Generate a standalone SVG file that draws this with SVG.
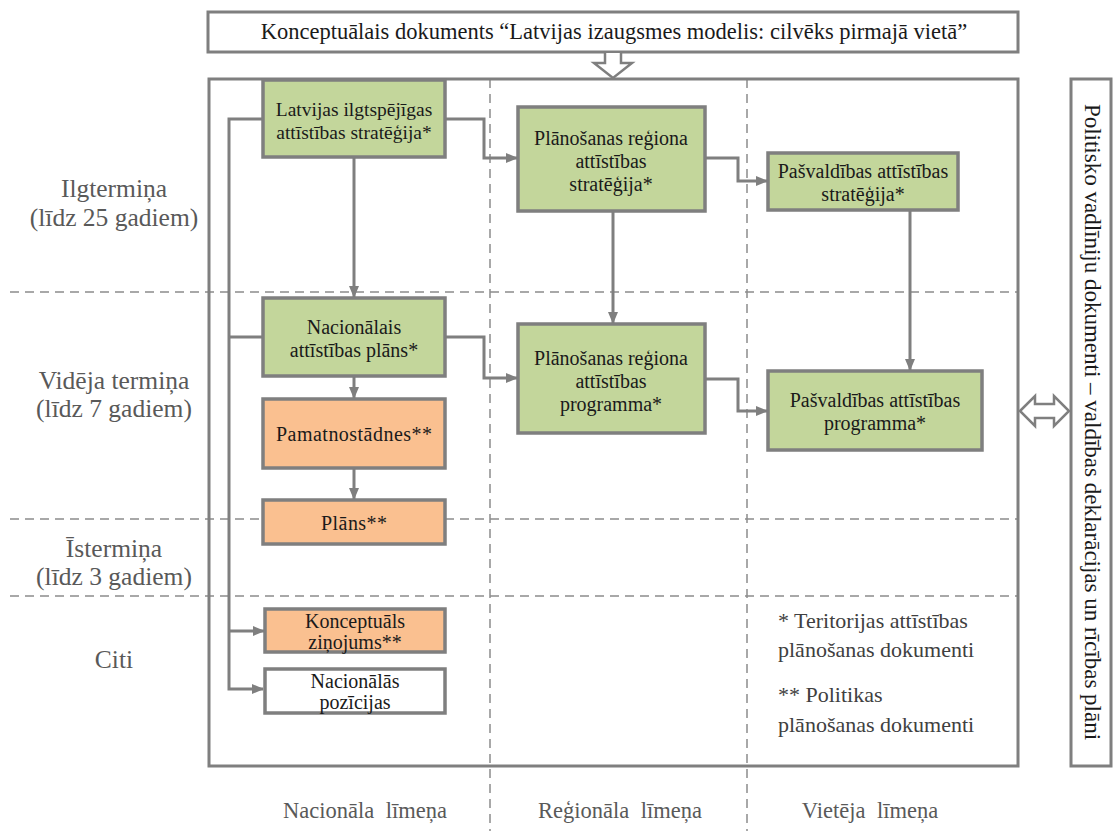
<svg xmlns="http://www.w3.org/2000/svg" width="1113" height="831" viewBox="0 0 1113 831">
<style>
text{font-family:"Liberation Serif","DejaVu Serif",serif}
.box{stroke:#7f7f7f;stroke-width:3.5}
.g{fill:#c3d69b}
.o{fill:#fac090}
.w{fill:#ffffff}
.t{font-size:20px;fill:#1a1a1a;text-anchor:middle}
.lab{font-size:25.5px;fill:#595959;text-anchor:middle}
.bot{font-size:22.5px;fill:#595959;text-anchor:middle;word-spacing:6px}
.leg{font-size:22px;fill:#404040}
.dash{stroke:#8c8c8c;stroke-width:1.5;stroke-dasharray:9 6;fill:none}
.c{stroke:#7f7f7f;stroke-width:3;fill:none}
</style>
<defs>
<marker id="ah" markerUnits="userSpaceOnUse" markerWidth="12" markerHeight="12" viewBox="0 0 12 12" refX="11" refY="6" orient="auto">
<path d="M0,1 L12,6 L0,11 Z" fill="#7f7f7f"/>
</marker>
</defs>
<rect width="1113" height="831" fill="#ffffff"/>

<g id="grid">
<line class="dash" x1="10" y1="292" x2="1018" y2="292"/>
<line class="dash" x1="10" y1="519" x2="1018" y2="519"/>
<line class="dash" x1="10" y1="596" x2="1018" y2="596"/>
<line class="dash" x1="490" y1="79" x2="490" y2="831"/>
<line class="dash" x1="747" y1="79" x2="747" y2="831"/>
</g>

<g id="frame">
<rect x="209" y="79" width="809" height="687" fill="none" stroke="#7f7f7f" stroke-width="3"/>
</g>

<g id="top">
<rect x="208" y="12" width="810" height="40" fill="#ffffff" stroke="#7f7f7f" stroke-width="3"/>
<text x="614" y="39" class="t" style="font-size:22.5px">Konceptuālais dokuments “Latvijas izaugsmes modelis: cilvēks pirmajā vietā”</text>
<path d="M605,53 L605,63 L594,63 L613,78 L632,63 L621,63 L621,53" fill="#ffffff" stroke="#7f7f7f" stroke-width="2.5"/>
</g>

<g id="side">
<rect x="1071" y="79" width="40" height="687" fill="#ffffff" stroke="#7f7f7f" stroke-width="3"/>
<text class="t" style="font-size:23px" transform="translate(1085,422) rotate(90)" x="0" y="0">Politisko vadlīniju dokumenti – valdības deklarācijas un rīcības plāni</text>
<path d="M1020,411 L1035,396 L1035,404 L1054,404 L1054,396 L1069,411 L1054,426 L1054,418 L1035,418 L1035,426 Z" fill="#ffffff" stroke="#7f7f7f" stroke-width="2.5"/>
</g>

<g id="rowlabels">
<text class="lab" x="114" y="197">Ilgtermiņa</text>
<text class="lab" x="114" y="226">(līdz 25 gadiem)</text>
<text class="lab" x="114" y="389">Vidēja termiņa</text>
<text class="lab" x="114" y="417">(līdz 7 gadiem)</text>
<text class="lab" x="114" y="557">Īstermiņa</text>
<text class="lab" x="114" y="585">(līdz 3 gadiem)</text>
<text class="lab" x="114" y="668">Citi</text>
</g>

<g id="collabels">
<text class="bot" x="365" y="818">Nacionāla līmeņa</text>
<text class="bot" x="620" y="818">Reģionāla līmeņa</text>
<text class="bot" x="870" y="818">Vietēja līmeņa</text>
</g>

<g id="connectors">
<path class="c" d="M263,119 L229,119 L229,689 L263,689" marker-end="url(#ah)"/>
<path class="c" d="M229,631 L264,631" marker-end="url(#ah)"/>
<path class="c" d="M263,337 L229,337"/>
<path class="c" d="M354,157 L354,297" marker-end="url(#ah)"/>
<path class="c" d="M445,119 L484,119 L484,158 L517,158" marker-end="url(#ah)"/>
<path class="c" d="M613,211 L613,323" marker-end="url(#ah)"/>
<path class="c" d="M705,158 L738,158 L738,181 L767,181" marker-end="url(#ah)"/>
<path class="c" d="M910,210 L910,370" marker-end="url(#ah)"/>
<path class="c" d="M445,337 L484,337 L484,378 L517,378" marker-end="url(#ah)"/>
<path class="c" d="M705,379 L738,379 L738,411 L767,411" marker-end="url(#ah)"/>
<path class="c" d="M354,376 L354,398" marker-end="url(#ah)"/>
<path class="c" d="M354,468 L354,499" marker-end="url(#ah)"/>
</g>

<g id="n1"><rect class="box g" x="263" y="80" width="182" height="77"/>
<text class="t" x="354" y="116" style="font-size:19.5px">Latvijas ilgtspējīgas</text><text class="t" x="354" y="139" style="font-size:19.5px">attīstības stratēģija*</text></g>
<g id="n2"><rect class="box g" x="518" y="107" width="187" height="104"/>
<text class="t" x="611" y="145">Plānošanas reģiona</text><text class="t" x="611" y="168">attīstības</text><text class="t" x="611" y="191">stratēģija*</text></g>
<g id="n3"><rect class="box g" x="768" y="153" width="190" height="57"/>
<text class="t" x="863" y="178">Pašvaldības attīstības</text><text class="t" x="863" y="201">stratēģija*</text></g>
<g id="n4"><rect class="box g" x="263" y="298" width="182" height="78"/>
<text class="t" x="354" y="334">Nacionālais</text><text class="t" x="354" y="357">attīstības plāns*</text></g>
<g id="n5"><rect class="box g" x="518" y="324" width="187" height="109"/>
<text class="t" x="611" y="365">Plānošanas reģiona</text><text class="t" x="611" y="388">attīstības</text><text class="t" x="611" y="411">programma*</text></g>
<g id="n6"><rect class="box g" x="768" y="371" width="214" height="79"/>
<text class="t" x="875" y="407">Pašvaldības attīstības</text><text class="t" x="875" y="430">programma*</text></g>
<g id="n7"><rect class="box o" x="263" y="399" width="182" height="69"/>
<text class="t" x="354" y="441" textLength="156" lengthAdjust="spacing">Pamatnostādnes**</text></g>
<g id="n8"><rect class="box o" x="263" y="500" width="182" height="44"/>
<text class="t" x="354" y="530" textLength="66" lengthAdjust="spacing">Plāns**</text></g>
<g id="n9"><rect class="box o" x="265" y="609" width="180" height="43"/>
<text class="t" x="355" y="628">Konceptuāls</text><text class="t" x="355" y="649">ziņojums**</text></g>
<g id="n10"><rect class="box w" x="265" y="669" width="180" height="44"/>
<text class="t" x="355" y="688">Nacionālās</text><text class="t" x="355" y="709">pozīcijas</text></g>

<g id="legend">
<text class="leg" x="778" y="628">* Teritorijas attīstības</text>
<text class="leg" x="778" y="657">plānošanas dokumenti</text>
<text class="leg" x="778" y="702">** Politikas</text>
<text class="leg" x="778" y="732">plānošanas dokumenti</text>
</g>
</svg>
